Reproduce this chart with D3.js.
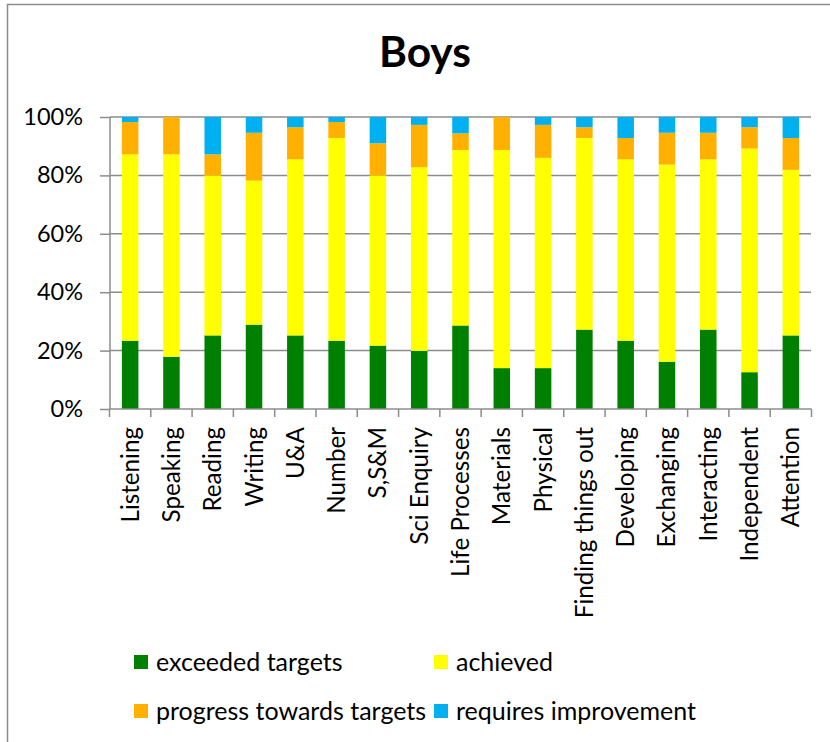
<!DOCTYPE html>
<html>
<head>
<meta charset="utf-8">
<script src="https://cdn.jsdelivr.net/npm/d3@7"></script>
<style>
body { margin: 0; background: #fff; }
text { font-family: Lato, "Open Sans", sans-serif; fill: #000; }
</style>
</head>
<body>
<svg width="830" height="742"></svg>
<script>
var categories = ["Listening", "Speaking", "Reading", "Writing", "U&A", "Number", "S,S&M",
    "Sci Enquiry", "Life Processes", "Materials", "Physical", "Finding things out",
    "Developing", "Exchanging", "Interacting", "Independent", "Attention"];
var seriesNames = ["exceeded targets", "achieved", "progress towards targets", "requires improvement"];
var seriesColors = ["#008000", "#ffff00", "#ffb000", "#00b0f0"];
var exceeded = [23.4, 17.9, 25.2, 28.9, 25.2, 23.4, 21.7, 19.9, 28.6, 14.0, 14.0, 27.2, 23.4, 16.2, 27.2, 12.6, 25.2];
var achieved = [63.8, 69.3, 54.8, 49.3, 60.3, 69.4, 58.3, 62.9, 60.1, 74.7, 72.0, 65.6, 62.1, 67.5, 58.3, 76.6, 56.7];
var progress = [11.1, 12.8, 7.2, 16.4, 11.0, 5.5, 11.0, 14.5, 5.7, 11.3, 11.3, 3.7, 7.3, 10.9, 9.1, 7.3, 10.9];
var requires = [1.7, 0, 12.8, 5.4, 3.5, 1.7, 9.0, 2.7, 5.6, 0, 2.7, 3.5, 7.2, 5.4, 5.4, 3.5, 7.2];
var yTicks = [0, 0.2, 0.4, 0.6, 0.8, 1];

var svg = d3.select("svg");

// outer chart border
svg.append("rect")
    .attr("x", 7.5).attr("y", 4.5)
    .attr("width", 900).attr("height", 900)
    .style("fill", "none")
    .style("stroke", "#8c8c8c")
    .style("stroke-width", "1.5px");

var x = d3.scaleBand().domain(categories).range([109.5, 811.5]).paddingInner(0.6).paddingOuter(0.3);
var y = d3.scaleLinear().domain([0, 1]).range([409, 117]);

// gridlines
svg.append("g").selectAll("line")
    .data(yTicks.slice(1))
    .enter().append("line")
    .attr("x1", 110).attr("x2", 811)
    .attr("y1", function(d){return y(d);})
    .attr("y2", function(d){return y(d);})
    .style("stroke", "#8c8c8c")
    .style("stroke-width", "1.5px");

// stacked bars
var rows = categories.map(function(c, i) {
    return {cat: c, v: [exceeded[i], achieved[i], progress[i], requires[i]]};
});
var stack = d3.stack().keys([0, 1, 2, 3]).value(function(d, k){return d.v[k] / 100;});
var layers = stack(rows);

var gs = svg.append("g").selectAll("g")
    .data(layers)
    .enter().append("g")
    .style("fill", function(d, i){return seriesColors[i];});

gs.selectAll("rect")
    .data(function(d){return d;})
    .enter().append("rect")
    .attr("x", function(d){return x(d.data.cat);})
    .attr("width", x.bandwidth())
    .attr("y", function(d){return y(d[1]);})
    .attr("height", function(d){return y(d[0]) - y(d[1]);});

// y axis
var yAxis = svg.append("g")
    .attr("transform", "translate(110,0)")
    .call(d3.axisLeft(y).tickValues(yTicks).tickFormat(d3.format(".0%")).tickSize(10).tickPadding(17));
yAxis.selectAll("line, path").style("stroke", "#8c8c8c").style("stroke-width", "1.5px");
yAxis.select("path").attr("d", "M0,117V409");
yAxis.selectAll("text").style("font-size", "23.5px").style("font-family", "Lato, sans-serif");

// x axis
var xAxis = svg.append("g").attr("transform", "translate(0,409)");
xAxis.append("line")
    .attr("x1", 109.5).attr("x2", 811.5)
    .style("stroke", "#8c8c8c").style("stroke-width", "1.5px");
var bounds = categories.map(function(c){return x(c) - x.step() * x.paddingInner() / 2;});
bounds.push(811.5);
xAxis.selectAll("line.tk")
    .data(bounds)
    .enter().append("line")
    .attr("class", "tk")
    .attr("x1", function(d){return d;}).attr("x2", function(d){return d;})
    .attr("y1", 0).attr("y2", 8)
    .style("stroke", "#8c8c8c").style("stroke-width", "1.5px");
xAxis.selectAll("text")
    .data(categories)
    .enter().append("text")
    .text(function(d){return d;})
    .attr("transform", function(d){return "translate(" + (x(d) + x.bandwidth() / 2) + ",18) rotate(-90)";})
    .attr("text-anchor", "end")
    .attr("dy", "0.35em")
    .style("font-size", "24.2px");

// title
svg.append("text")
    .text("Boys")
    .attr("x", 425).attr("y", 67)
    .attr("text-anchor", "middle")
    .style("font-size", "42.5px")
    .style("font-weight", "bold");

// legend
var legendPos = [[134, 662], [434, 662], [134, 711], [434, 711]];
var lg = svg.append("g").selectAll("g")
    .data(seriesNames)
    .enter().append("g")
    .attr("transform", function(d, i){return "translate(" + legendPos[i][0] + "," + legendPos[i][1] + ")";});
lg.append("rect")
    .attr("x", 0).attr("y", -7).attr("width", 14).attr("height", 14)
    .style("fill", function(d, i){return seriesColors[i];});
lg.append("text")
    .text(function(d){return d;})
    .attr("x", 22).attr("dy", "0.35em")
    .style("font-size", "25px");
</script>
</body>
</html>
